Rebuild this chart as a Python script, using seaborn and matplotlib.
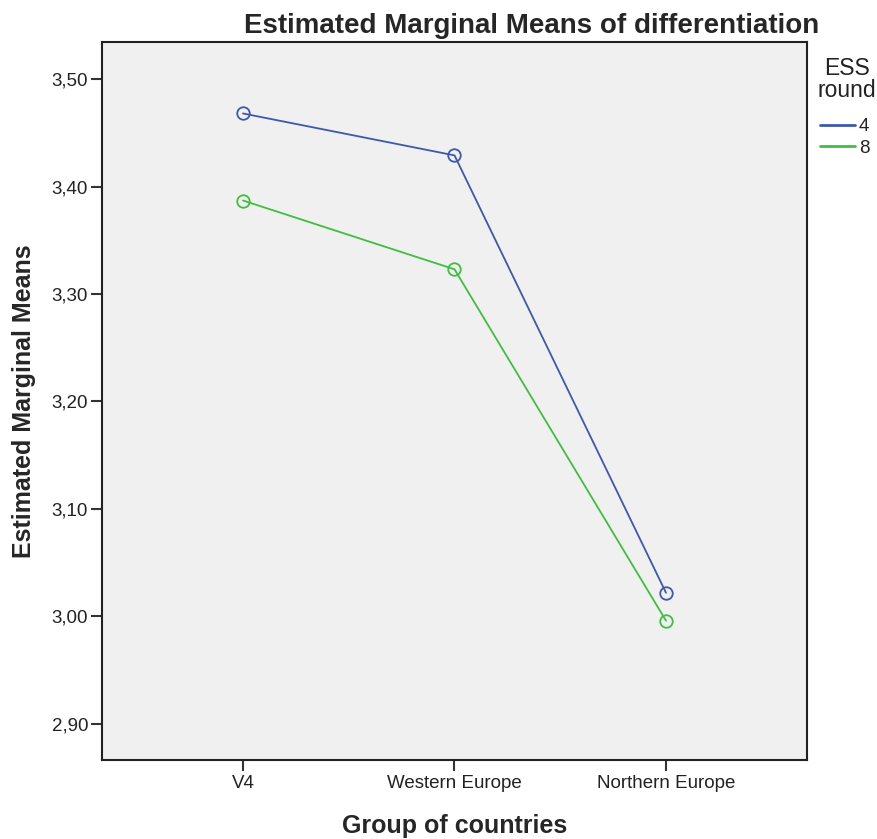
import numpy as np
import pandas as pd
import seaborn as sns
import matplotlib.pyplot as plt
from matplotlib.ticker import FuncFormatter

groups = ['V4', 'Western Europe', 'Northern Europe']
round4 = [3.468, 3.429, 3.022]
round8 = [3.387, 3.323, 2.996]
yticks = [2.90, 3.00, 3.10, 3.20, 3.30, 3.40, 3.50]

df = pd.DataFrame({
    'group': groups * 2,
    'mean': round4 + round8,
    'round': ['4'] * 3 + ['8'] * 3,
})

sns.set_style('white')
plt.rcParams['font.family'] = ['Liberation Sans', 'DejaVu Sans']

fig = plt.figure(figsize=(8.78, 8.39), dpi=100)
ax = fig.add_axes([102 / 878, 1 - 760 / 839, 705 / 878, 718 / 839])
ax.set_facecolor('#f0f0f0')

sns.lineplot(data=df, x='group', y='mean', hue='round',
             palette={'4': '#3e58ac', '8': '#3ec03e'},
             marker='o', markersize=9, markerfacecolor='none',
             markeredgewidth=1.3, linewidth=1.3, ax=ax)
for line in ax.lines:
    line.set_markeredgecolor(line.get_color())

ax.set_xlim(-2 / 3, 2 + 2 / 3)
ax.set_ylim(2.8664, 3.5345)
ax.set_yticks(yticks)
ax.yaxis.set_major_formatter(FuncFormatter(lambda v, p: f'{v:.2f}'.replace('.', ',')))

for s in ax.spines.values():
    s.set_color('#222222')
    s.set_linewidth(1.5)
ax.tick_params(direction='out', length=8, width=1.5, color='#333333',
               labelsize=13.5, labelcolor='#222222', left=True, bottom=True)
ax.tick_params(axis='y', pad=2)
ax.tick_params(axis='x', pad=3)

ax.set_xlabel('')
ax.set_ylabel('Estimated Marginal Means', fontsize=18, fontweight='bold', labelpad=11)
fig.text(455 / 878, 1 - 833 / 839, 'Group of countries',
         ha='center', va='baseline', fontsize=18, fontweight='bold')
fig.text(532 / 878, 1 - 33 / 839, 'Estimated Marginal Means of differentiation',
         ha='center', va='baseline', fontsize=20, fontweight='bold')

handles, labels = ax.get_legend_handles_labels()
ax.get_legend().remove()
fig.text(847 / 878, 1 - 97 / 839, 'ESS\nround', ha='center', va='baseline',
         fontsize=16.5, color='#222222', linespacing=0.95, multialignment='center')
leg = fig.legend(handles, labels, loc='upper left',
                 bbox_to_anchor=(820 / 878, 1 - 118 / 839),
                 frameon=False, fontsize=13.5, borderaxespad=0, borderpad=0,
                 handlelength=1.87, handletextpad=0.2, labelspacing=0.25)
for h in leg.get_lines():
    h.set_marker('')
    h.set_linewidth(2)
for t in leg.get_texts():
    t.set_color('#222222')

fig.savefig('out.png', dpi=100)
